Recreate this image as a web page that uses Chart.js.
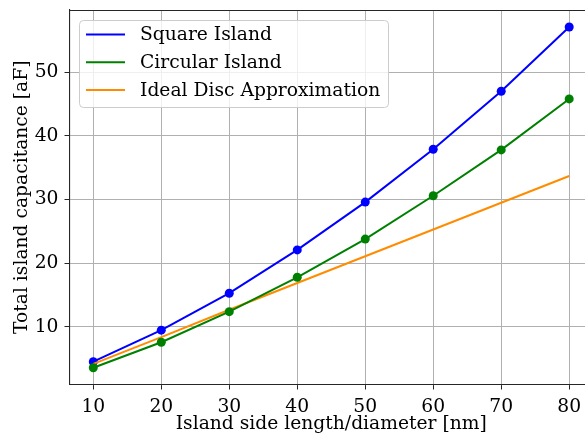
<!DOCTYPE html>
<html>
<head>
<meta charset="utf-8">
<script src="https://cdn.jsdelivr.net/npm/chart.js@4/dist/chart.umd.min.js"></script>
<style>
  html, body { margin: 0; padding: 0; overflow: hidden; background: #fff; }
  #wrap { width: 585px; height: 435px; }
</style>
</head>
<body>
<div id="wrap"><canvas id="c" width="585" height="435"></canvas></div>
<script>
// Island size (nm) and total island capacitance (aF)
const sizes = [10, 20, 30, 40, 50, 60, 70, 80];
const squareIsland = [4.55, 9.5, 15.3, 22.1, 29.6, 37.9, 47.0, 57.1];
const circularIsland = [3.6, 7.6, 12.4, 17.8, 23.8, 30.6, 37.8, 45.8];
const idealDisc = [4.2, 8.4, 12.7, 16.9, 21.1, 25.3, 29.5, 33.7];

const xTicks = [10, 20, 30, 40, 50, 60, 70, 80];
const yTicks = [10, 20, 30, 40, 50];

const seriesNames = ['Square Island', 'Circular Island', 'Ideal Disc Approximation'];
const seriesColors = ['#0000ff', '#008000', '#ff8c00'];

const FONT = 'DejaVu Serif';
const FSIZE = 18.7;
const PLOT_RIGHT = 593; // axes box runs slightly past the canvas edge

function points(ys) {
  return sizes.map((x, i) => ({ x: x, y: ys[i] }));
}

// Axes frame (top/right spines), wide plot box and in-plot legend
const framePlugin = {
  id: 'frame',
  afterLayout(chart) {
    const xs = chart.scales.x;
    chart.chartArea.right = PLOT_RIGHT;
    chart.chartArea.width = PLOT_RIGHT - chart.chartArea.left;
    xs.right = PLOT_RIGHT;
    xs.width = PLOT_RIGHT - xs.left;
    xs.configure();
    const ys = chart.scales.y;
    ys.configure();
  },
  afterDatasetsDraw(chart) {
    const { ctx, chartArea: a } = chart;
    ctx.save();
    ctx.strokeStyle = '#262626';
    ctx.lineWidth = 1.1;
    ctx.beginPath();
    ctx.moveTo(a.left, a.top + 0.5);
    ctx.lineTo(a.right, a.top + 0.5);
    ctx.moveTo(a.right - 0.5, a.top);
    ctx.lineTo(a.right - 0.5, a.bottom);
    ctx.stroke();
    ctx.restore();
  },
  afterDraw(chart) {
    const { ctx } = chart;
    const bx = 79.5, by = 20.5, bw = 309, bh = 87, r = 4;
    ctx.save();
    ctx.beginPath();
    ctx.moveTo(bx + r, by);
    ctx.lineTo(bx + bw - r, by);
    ctx.quadraticCurveTo(bx + bw, by, bx + bw, by + r);
    ctx.lineTo(bx + bw, by + bh - r);
    ctx.quadraticCurveTo(bx + bw, by + bh, bx + bw - r, by + bh);
    ctx.lineTo(bx + r, by + bh);
    ctx.quadraticCurveTo(bx, by + bh, bx, by + bh - r);
    ctx.lineTo(bx, by + r);
    ctx.quadraticCurveTo(bx, by, bx + r, by);
    ctx.closePath();
    ctx.fillStyle = 'rgba(255,255,255,0.8)';
    ctx.fill();
    ctx.strokeStyle = '#cccccc';
    ctx.lineWidth = 1;
    ctx.stroke();

    ctx.font = FSIZE + 'px "' + FONT + '"';
    ctx.textBaseline = 'middle';
    ctx.textAlign = 'left';
    chart.data.datasets.forEach((ds, i) => {
      const y = 34.5 + i * 27.7;
      ctx.strokeStyle = ds.borderColor;
      ctx.lineWidth = 2;
      ctx.beginPath();
      ctx.moveTo(86, y);
      ctx.lineTo(125, y);
      ctx.stroke();
      ctx.fillStyle = '#000';
      ctx.fillText(ds.label, 140, y + 1);
    });
    ctx.restore();
  }
};

new Chart(document.getElementById('c'), {
  type: 'line',
  data: {
    datasets: [
      {
        label: seriesNames[0], data: points(squareIsland), order: 3,
        borderColor: seriesColors[0], backgroundColor: seriesColors[0],
        borderWidth: 2, pointRadius: 4.5, pointBorderWidth: 0, tension: 0
      },
      {
        label: seriesNames[1], data: points(circularIsland), order: 1,
        borderColor: seriesColors[1], backgroundColor: seriesColors[1],
        borderWidth: 2, pointRadius: 4.5, pointBorderWidth: 0, tension: 0
      },
      {
        label: seriesNames[2], data: points(idealDisc), order: 2,
        borderColor: seriesColors[2], backgroundColor: seriesColors[2],
        borderWidth: 2, pointRadius: 0, tension: 0
      }
    ]
  },
  options: {
    responsive: false,
    animation: false,
    devicePixelRatio: 1,
    layout: { padding: { top: 10, right: 0, left: 0, bottom: 0 } },
    plugins: { legend: { display: false }, tooltip: { enabled: false } },
    scales: {
      x: {
        type: 'linear',
        min: 6.5, max: 83.5,
        afterBuildTicks: s => { s.ticks = xTicks.map(v => ({ value: v })); },
        afterFit: s => { s.height = 50.5; s.paddingLeft = 0; s.paddingRight = 0; },
        grid: { color: '#b0b0b0', lineWidth: 1, tickColor: '#262626', tickLength: 5 },
        border: { display: true, color: '#262626', width: 1.1 },
        ticks: {
          color: '#000', padding: 6,
          font: { family: FONT, size: FSIZE },
          callback: v => String(v), maxRotation: 0, autoSkip: false
        },
        title: {
          display: true, text: 'Island side length/diameter [nm]', color: '#000',
          font: { family: FONT, size: FSIZE }, padding: { top: 0, bottom: 0 }
        }
      },
      y: {
        type: 'linear',
        min: 0.97, max: 59.76,
        afterBuildTicks: s => { s.ticks = yTicks.map(v => ({ value: v })); },
        afterFit: s => { s.width = 69.5; s.paddingTop = 0; s.paddingBottom = 0; },
        grid: { color: '#b0b0b0', lineWidth: 1, tickColor: '#262626', tickLength: 5 },
        border: { display: true, color: '#262626', width: 1.1 },
        ticks: {
          color: '#000', padding: 6,
          font: { family: FONT, size: FSIZE },
          callback: v => String(v), autoSkip: false
        },
        title: {
          display: true, text: 'Total island capacitance [aF]', color: '#000',
          font: { family: FONT, size: FSIZE }, padding: { top: 11, bottom: 0 }
        }
      }
    }
  },
  plugins: [framePlugin]
});
</script>
</body>
</html>
